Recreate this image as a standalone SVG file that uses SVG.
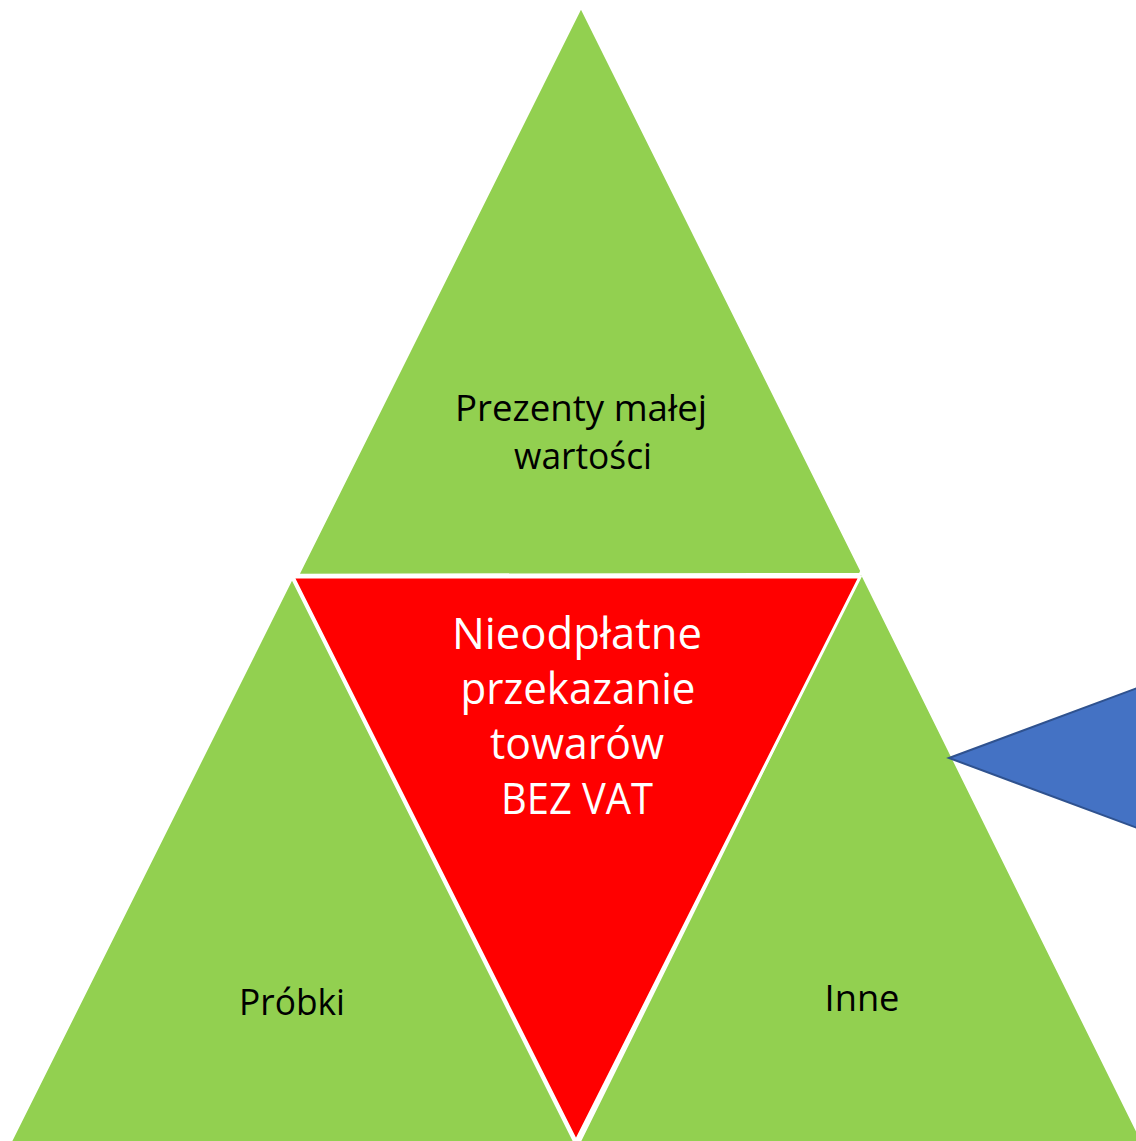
<svg xmlns="http://www.w3.org/2000/svg" width="1136" height="1141" viewBox="0 0 1136 1141">
<style>
.g{fill:#92D050;stroke:#FFFFFF;stroke-width:2.5;stroke-linejoin:miter}
.r{fill:#FF0000;stroke:#FFFFFF;stroke-width:3;stroke-linejoin:miter}
.b{fill:#4472C4;stroke:#2F528F;stroke-width:2}
.tb{font-family:"Open Sans","Liberation Sans",sans-serif;font-size:36px;fill:#000000;text-anchor:middle}
.tw{font-family:"Open Sans","Liberation Sans",sans-serif;font-size:44px;fill:#FFFFFF;text-anchor:middle}
</style>
<rect width="1136" height="1141" fill="#FFFFFF"/>
<g id="top">
<polygon class="g" points="581,7 298,575 863,574"/>
<text class="tb" x="581" y="421" textLength="252" lengthAdjust="spacingAndGlyphs">Prezenty małej</text>
<text class="tb" x="583" y="469" textLength="138" lengthAdjust="spacingAndGlyphs">wartości</text>
</g>
<g id="left">
<polygon class="g" points="292,578 9,1145 576,1145"/>
<text class="tb" x="292" y="1015" textLength="106" lengthAdjust="spacingAndGlyphs">Próbki</text>
</g>
<g id="right">
<polygon class="g" points="861,572 578,1145 1144,1145"/>
<text class="tb" x="862" y="1011" textLength="75" lengthAdjust="spacingAndGlyphs">Inne</text>
</g>
<g id="center">
<polygon class="r" points="293,577 860,577 576,1141"/>
<text class="tw" x="577" y="649" textLength="250" lengthAdjust="spacingAndGlyphs">Nieodpłatne</text>
<text class="tw" x="578" y="704" textLength="235" lengthAdjust="spacingAndGlyphs">przekazanie</text>
<text class="tw" x="577" y="759" textLength="174" lengthAdjust="spacingAndGlyphs">towarów</text>
<text class="tw" x="577" y="814" textLength="152" lengthAdjust="spacingAndGlyphs">BEZ VAT</text>
</g>
<g id="connectors">
<polygon class="b" points="949,758 1140,687 1140,829"/>
</g>
</svg>
